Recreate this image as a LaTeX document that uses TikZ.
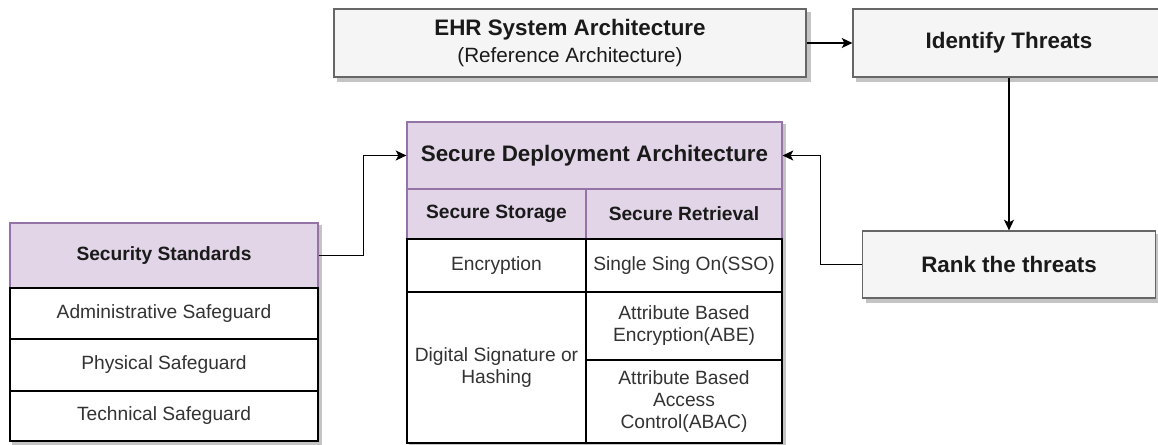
\documentclass[tikz,border=0pt]{standalone}
\usepackage{fontspec}
\setmainfont{Liberation Sans}
\usetikzlibrary{arrows.meta,backgrounds}

\definecolor{boxgray}{HTML}{F5F5F5}
\definecolor{edgegray}{HTML}{666666}
\definecolor{lilac}{HTML}{E1D5E7}
\definecolor{lilacedge}{HTML}{9673A6}
\definecolor{inkdark}{HTML}{1A1A1A}
\definecolor{inkgray}{HTML}{333333}
\definecolor{shadegray}{HTML}{C4C4C4}

\tikzset{
  stepbox/.style={draw=edgegray,fill=boxgray,line width=0.9pt,inner sep=0pt,align=center,
    text=inkdark,font=\fontsize{16.8}{20}\selectfont\bfseries},
  headcell/.style={draw=lilacedge,fill=lilac,line width=0.9pt,inner sep=0pt,align=center,
    text=inkdark,font=\fontsize{14.4}{17}\selectfont\bfseries},
  bodycell/.style={draw=black,fill=white,line width=0.9pt,inner sep=0pt,align=center,
    text=inkgray,font=\fontsize{14.4}{16.5}\selectfont},
  flow/.style={draw=black,line width=0.9pt,-{Stealth[length=8pt,width=7.5pt,inset=2pt]}},
  shade/.style={fill=shadegray},
}

\begin{document}
\begin{tikzpicture}[x=0.75pt,y=0.75pt,yscale=-1,xscale=1]
\useasboundingbox (0,0) rectangle (1158,445); %picture is 1158 wide and 445 high

%Shape: Rectangle [EHR]
\node [stepbox,minimum width=354pt,minimum height=51pt] (ehr) at (570,43)
  {EHR System Architecture\\[0pt]{\fontsize{15.5}{18}\selectfont\mdseries (Reference Architecture)}};
%Shape: Rectangle [threats]
\node [stepbox,minimum width=234pt,minimum height=51pt] (identify) at (1009,43) {Identify Threats};
%Shape: Rectangle [ranking]
\node [stepbox,minimum width=219.75pt,minimum height=50.25pt] (rank) at (1009,264.5) {Rank the threats};

%Table: Secure Deployment Architecture
\node [headcell,font=\fontsize{16.8}{20}\selectfont\bfseries,minimum width=281.25pt,minimum height=50.25pt] (sda) at (594.5,155.5) {Secure Deployment Architecture};
\node [headcell,minimum width=134.25pt,minimum height=37.5pt] (storage) at (496.5,214) {Secure Storage};
\node [bodycell,minimum width=134.25pt,minimum height=39.75pt] (encrypt) at (496.5,265.5) {Encryption};
\node [bodycell,minimum width=134.25pt,minimum height=113.25pt] (signhash) at (496.5,367.5) {Digital Signature or\\Hashing};
\node [headcell,minimum width=147pt,minimum height=37.5pt] (retrieval) at (684,214) {Secure Retrieval};
\node [bodycell,minimum width=147pt,minimum height=39.75pt] (sso) at (684,265.5) {Single Sing On(SSO)};
\node [bodycell,minimum width=147pt,minimum height=51pt] (abe) at (684,326) {Attribute Based\\Encryption(ABE)};
\node [bodycell,minimum width=147pt,minimum height=62.25pt] (abac) at (684,401.5) {Attribute Based\\Access\\Control(ABAC)};

%Table: Security Standards
\node [headcell,minimum width=231pt,minimum height=48.75pt] (standards) at (164,255.5) {Security Standards};
\node [bodycell,minimum width=231pt,minimum height=38.25pt] (admin) at (164,313.5) {Administrative Safeguard};
\node [bodycell,minimum width=231pt,minimum height=39pt] (physical) at (164,365) {Physical Safeguard};
\node [bodycell,minimum width=231pt,minimum height=37.5pt] (technical) at (164,416) {Technical Safeguard};

%Connectors
\draw [flow] (ehr.east) -- (identify.west);
\draw [flow] (identify.south) -- (rank.north);
\draw [flow] (rank.west) -- ++(-41.5,0) |- (sda.east);
\draw [flow] (standards.east) -- ++(45,0) |- (sda.west);

%Shadows
\begin{scope}[on background layer]
\foreach \nm in {ehr,identify,rank}
  \fill [shade] ([shift={(4,4)}]\nm.north west) rectangle ([shift={(4,4)}]\nm.south east);
\fill [shade] ([shift={(3,3)}]sda.north west) rectangle ([shift={(3,3)}]abac.south east);
\fill [shade] ([shift={(3,3)}]standards.north west) rectangle ([shift={(3,3)}]technical.south east);
\end{scope}

\end{tikzpicture}
\end{document}
